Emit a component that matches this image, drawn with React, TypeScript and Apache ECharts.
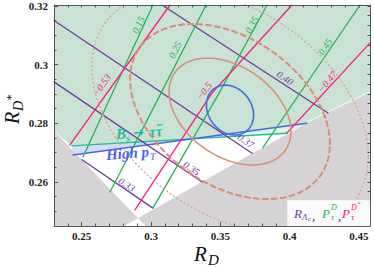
import React, { useEffect, useRef } from 'react';
import * as echarts from 'echarts';

// ---------- axes ----------
const xMin = 0.23;
const xMax = 0.458;
const yMin = 0.245;
const yMax = 0.3203;
const xLabelValues = [0.25, 0.3, 0.35, 0.4, 0.45];
const yLabelValues = [0.26, 0.28, 0.3, 0.32];
const xMinorValues = [0.23, 0.24, 0.26, 0.27, 0.28, 0.29, 0.31, 0.32, 0.33, 0.34, 0.36, 0.37, 0.38, 0.39, 0.41, 0.42, 0.43, 0.44];
const yMinorValues = [0.25, 0.255, 0.265, 0.27, 0.275, 0.285, 0.29, 0.295, 0.305, 0.31, 0.315];
const yRightTicks = [0.2467, 0.25, 0.2533, 0.2567, 0.26, 0.2633, 0.2667, 0.27, 0.2733, 0.2767, 0.28, 0.2833, 0.2867, 0.29, 0.2933, 0.2967, 0.3, 0.3033, 0.3067, 0.31, 0.3133, 0.3167, 0.32];

// ---------- regions (R_D, R_D*) ----------
const leftBoundary = [[0.23, 0.2774], [0.2906, 0.2476]];
const rightBoundary = [[0.2906, 0.2476], [0.3729, 0.2697], [0.4125, 0.28], [0.4291, 0.2839], [0.458, 0.2905]];
const leftGrayTail = [[0.2805, 0.245], [0.23, 0.245]];
const rightGrayTail = [[0.2962, 0.245], [0.458, 0.245]];
const bsTauTauLine = [[0.243, 0.2723], [0.3979, 0.2766]];
const highPtLine = [[0.2437, 0.2692], [0.4125, 0.28]];

// ---------- R_Lambda_c contours ----------
const rLcLevels = ['0.40', '0.37', '0.35', '0.33'];
const rLcLines = [
  [[0.3079, 0.3203], [0.4277, 0.2835]],
  [[0.23, 0.315], [0.3729, 0.2698]],
  [[0.23, 0.2941], [0.3368, 0.26]],
  [[0.2502, 0.2676], [0.3014, 0.2511]],
];

// ---------- P_tau^D contours ----------
const pDLevels = ['0.15', '0.25', '0.35', '0.45'];
const pDLines = [
  [[0.3014, 0.3203], [0.2509, 0.2685]],
  [[0.3397, 0.3203], [0.3065, 0.2896], [0.2704, 0.2566]],
  [[0.3837, 0.3203], [0.3483, 0.2896], [0.3014, 0.2511]],
  [[0.4508, 0.3203], [0.3808, 0.2718]],
];

// ---------- P_tau^D* contours ----------
const pDsLevels = ['\u22120.53', '\u22120.5', '\u22120.47'];
const pDsLines = [
  [[0.3137, 0.3203], [0.2415, 0.2726]],
  [[0.4017, 0.3203], [0.344, 0.2903], [0.2884, 0.2505]],
  [[0.458, 0.3074], [0.3979, 0.2766]],
];

// ---------- measurement ellipses ----------
const worldAvgCenter = [0.357, 0.284];
const worldAvgSigma = [0.029, 0.012];
const worldAvgRho = -0.37;
const worldAvgChi2 = [2.3, 6.18, 11.83];
const projCenter = [0.357, 0.2845];
const projSigma = [0.017, 0.0085];
const projRho = -0.2;

// ---------- label placement (layout) ----------
const rLcLabelAt = [[0.3967, 0.2954], [0.3685, 0.274], [0.3293, 0.2647], [0.2825, 0.2591]];
const rLcLabelRot = [-34, -34, -34, -34];
const pDLabelAt = [[0.2908, 0.3135], [0.3173, 0.305], [0.3726, 0.3135], [0.4255, 0.3061]];
const pDLabelRot = [64, 63, 61, 56];
const pDsLabelAt = [[0.2644, 0.293], [0.3382, 0.291], [0.4272, 0.2942]];
const pDsLabelRot = [55, 52, 50];

const PURPLE = '#6c3aa6';
const GREEN = '#26b457';
const PINK = '#f7207e';
const TEAL = '#1fbf9e';
const BLUE = '#4d62f2';
const SALMON = '#dc8c76';
const SERIF = '"Liberation Serif", "DejaVu Serif", serif';

function ellipse(c: number[], s: number[], rho: number, chi2: number) {
  const k = Math.sqrt(chi2);
  const pts: number[][] = [];
  const n = 180;
  for (let i = 0; i <= n; i++) {
    const t = (2 * Math.PI * i) / n;
    pts.push([
      c[0] + k * s[0] * Math.cos(t),
      c[1] + k * s[1] * (rho * Math.cos(t) + Math.sqrt(1 - rho * rho) * Math.sin(t)),
    ]);
  }
  return pts;
}

function intersect(a: number[][], b: number[][]) {
  const [p1, p2] = a;
  const [p3, p4] = b;
  const d = (p1[0] - p2[0]) * (p3[1] - p4[1]) - (p1[1] - p2[1]) * (p3[0] - p4[0]);
  const t = ((p1[0] - p3[0]) * (p3[1] - p4[1]) - (p1[1] - p3[1]) * (p3[0] - p4[0])) / d;
  return [p1[0] + t * (p2[0] - p1[0]), p1[1] + t * (p2[1] - p1[1])];
}

function polygon(points: number[][], fill: string, z: number) {
  return {
    type: 'custom',
    silent: true,
    z,
    data: [points[0]],
    renderItem: (_p: any, api: any) => ({
      type: 'polygon',
      shape: { points: points.map((p) => api.coord(p)) },
      style: { fill },
    }),
  };
}

function line(points: number[][], color: string, width: number, z: number, type: any = 'solid') {
  return {
    type: 'line',
    data: points,
    symbol: 'none',
    silent: true,
    z,
    lineStyle: { color, width, type, cap: 'round' },
  };
}

function labels(texts: string[], at: number[][], rot: number[], color: string) {
  return {
    type: 'custom',
    silent: true,
    z: 8,
    data: at,
    renderItem: (params: any, api: any) => {
      const i = params.dataIndex;
      const p = api.coord(at[i]);
      return {
        type: 'text',
        x: p[0],
        y: p[1],
        rotation: (rot[i] * Math.PI) / 180,
        style: {
          text: texts[i],
          fill: color,
          font: `italic 10px ${SERIF}`,
          align: 'center',
          verticalAlign: 'middle',
        },
      };
    },
  };
}

const fmt = (v: number) => String(parseFloat(Number(v).toFixed(3)));

function buildOption() {
  const cross = intersect(bsTauTauLine, highPtLine);
  const series: any[] = [];
  // regions
  series.push(
    polygon(
      [[xMin, yMax], [xMax, yMax], ...rightBoundary.slice(1).reverse().slice(0, 3), cross, bsTauTauLine[0], leftBoundary[0]],
      '#c9e2d3',
      1
    )
  );
  series.push(polygon([bsTauTauLine[0], cross, highPtLine[0]], '#d4dcf6', 1));
  series.push(polygon([cross, highPtLine[1], bsTauTauLine[1]], '#e3f3e3', 1));
  series.push(line(rightBoundary.slice(2), '#e6f4e6', 3, 1.5));
  series.push(polygon([...leftBoundary, ...leftGrayTail], '#d5d3d5', 2));
  series.push(polygon([rightBoundary[0], ...rightGrayTail, ...rightBoundary.slice(1).reverse()], '#d5d3d5', 2));
  // constraint lines
  series.push(line(bsTauTauLine, TEAL, 1.4, 3));
  series.push(line(highPtLine, BLUE, 1.4, 3));
  // contour lines
  rLcLines.forEach((l) => series.push(line(l, PURPLE, 1.3, 4)));
  pDLines.forEach((l) => series.push(line(l, GREEN, 1.3, 4)));
  pDsLines.forEach((l) => series.push(line(l, PINK, 1.3, 4)));
  // ellipses
  series.push(line(ellipse(worldAvgCenter, worldAvgSigma, worldAvgRho, worldAvgChi2[0]), SALMON, 1.5, 5));
  series.push(line(ellipse(worldAvgCenter, worldAvgSigma, worldAvgRho, worldAvgChi2[1]), SALMON, 2, 5, [5, 4]));
  series.push(line(ellipse(worldAvgCenter, worldAvgSigma, worldAvgRho, worldAvgChi2[2]), '#e0a090', 1.3, 5, [1, 3.2]));
  series.push(line(ellipse(projCenter, projSigma, projRho, 1), '#3f6fe2', 1.6, 6));
  // labels
  series.push(labels(rLcLevels, rLcLabelAt, rLcLabelRot, PURPLE));
  series.push(labels(pDLevels, pDLabelAt, pDLabelRot, GREEN));
  series.push(labels(pDsLevels, pDsLabelAt, pDsLabelRot, PINK));

  const axisCommon = {
    type: 'value',
    z: 20,
    splitLine: { show: false },
    axisLine: { show: true, onZero: false, lineStyle: { color: '#555', width: 1 } },
  };
  const labelStyle = { fontFamily: SERIF, fontWeight: 'bold', fontSize: 11, color: '#222', formatter: fmt };

  const xAxis = [
    {
      ...axisCommon, min: xMin, max: xMax, position: 'bottom',
      axisTick: { show: true, inside: true, length: 4, customValues: xLabelValues, lineStyle: { color: '#555' } },
      axisLabel: { ...labelStyle, customValues: xLabelValues, margin: 4 },
    },
    {
      ...axisCommon, min: xMin, max: xMax, position: 'bottom',
      axisLine: { show: false },
      axisTick: { show: true, inside: true, length: 2.5, customValues: xMinorValues, lineStyle: { color: '#555' } },
      axisLabel: { show: false },
    },
    {
      ...axisCommon, min: xMin, max: xMax, position: 'top',
      axisTick: { show: true, inside: true, length: 2.5, customValues: [...xLabelValues, ...xMinorValues], lineStyle: { color: '#555' } },
      axisLabel: { show: false },
    },
  ];
  const yAxis = [
    {
      ...axisCommon, min: yMin, max: yMax, position: 'left',
      axisTick: { show: true, inside: true, length: 4, customValues: yLabelValues, lineStyle: { color: '#555' } },
      axisLabel: { ...labelStyle, customValues: yLabelValues, margin: 6 },
    },
    {
      ...axisCommon, min: yMin, max: yMax, position: 'left',
      axisLine: { show: false },
      axisTick: { show: true, inside: true, length: 2.5, customValues: yMinorValues, lineStyle: { color: '#555' } },
      axisLabel: { show: false },
    },
    {
      ...axisCommon, min: yMin, max: yMax, position: 'right',
      axisTick: { show: true, inside: true, length: 2.5, customValues: yRightTicks, lineStyle: { color: '#555' } },
      axisLabel: { show: false },
    },
  ];

  const it = (size: number, bold = false) => `italic ${bold ? 'bold ' : ''}${size}px ${SERIF}`;
  const graphic: any[] = [
    // x title
    { type: 'text', x: 194, y: 254, z: 50, style: { text: 'R', font: it(21), fill: '#111', verticalAlign: 'middle' } },
    { type: 'text', x: 208, y: 260, z: 50, style: { text: 'D', font: it(15), fill: '#111', verticalAlign: 'middle' } },
    // y title
    {
      type: 'group', x: 12, y: 124, rotation: Math.PI / 2, z: 50,
      children: [
        { type: 'text', x: 0, y: 0, style: { text: 'R', font: it(20), fill: '#111', verticalAlign: 'middle' } },
        { type: 'text', x: 13, y: 6, style: { text: 'D', font: it(14), fill: '#111', verticalAlign: 'middle' } },
        { type: 'text', x: 23, y: -1, style: { text: '*', font: it(12), fill: '#111', verticalAlign: 'middle' } },
      ],
    },
    // Bs -> tau tau
    { type: 'text', x: 116, y: 134, z: 50, rotation: 0.06, style: { text: 'B', font: it(15, true), fill: TEAL, verticalAlign: 'middle' } },
    { type: 'text', x: 126, y: 138, z: 50, rotation: 0.06, style: { text: 's', font: it(10, true), fill: TEAL, verticalAlign: 'middle' } },
    { type: 'text', x: 133, y: 132.5, z: 50, rotation: 0.06, style: { text: '\u2192', font: 'bold 13px "DejaVu Sans", sans-serif', fill: TEAL, verticalAlign: 'middle' } },
    { type: 'text', x: 149, y: 132, z: 50, rotation: 0.06, style: { text: '\u03c4\u03c4', font: it(15, true), fill: TEAL, verticalAlign: 'middle' } },
    { type: 'rect', x: 157, y: 124.5, z: 50, rotation: 0.06, shape: { width: 6, height: 1.2 }, style: { fill: TEAL } },
    // High pT
    { type: 'text', x: 106, y: 155, z: 50, rotation: 0.08, style: { text: 'High p', font: it(15, true), fill: BLUE, verticalAlign: 'middle' } },
    { type: 'text', x: 150, y: 156.5, z: 50, rotation: 0.08, style: { text: 'T', font: it(10), fill: BLUE, verticalAlign: 'middle' } },
    // legend box
    { type: 'rect', x: 287, y: 200, z: 40, shape: { width: 83, height: 26 }, style: { fill: 'rgba(255,255,255,0.88)', stroke: 'rgba(200,200,200,0.6)', lineWidth: 0.5 } },
    { type: 'text', x: 294, y: 213, z: 50, style: { text: 'R', font: it(13), fill: PURPLE, verticalAlign: 'middle' } },
    { type: 'text', x: 302, y: 217, z: 50, style: { text: '\u039b', font: it(9), fill: PURPLE, verticalAlign: 'middle' } },
    { type: 'text', x: 308, y: 219, z: 50, style: { text: 'c', font: it(7), fill: PURPLE, verticalAlign: 'middle' } },
    { type: 'text', x: 312, y: 215, z: 50, style: { text: ',', font: it(13), fill: '#333', verticalAlign: 'middle' } },
    { type: 'text', x: 322, y: 213, z: 50, style: { text: 'P', font: it(13), fill: GREEN, verticalAlign: 'middle' } },
    { type: 'text', x: 331, y: 207, z: 50, style: { text: 'D', font: it(8), fill: GREEN, verticalAlign: 'middle' } },
    { type: 'text', x: 331, y: 217, z: 50, style: { text: '\u03c4', font: it(9), fill: GREEN, verticalAlign: 'middle' } },
    { type: 'text', x: 338, y: 215, z: 50, style: { text: ',', font: it(13), fill: '#333', verticalAlign: 'middle' } },
    { type: 'text', x: 342, y: 213, z: 50, style: { text: 'P', font: it(13), fill: PINK, verticalAlign: 'middle' } },
    { type: 'text', x: 351, y: 207, z: 50, style: { text: 'D', font: it(8), fill: PINK, verticalAlign: 'middle' } },
    { type: 'text', x: 357, y: 204, z: 50, style: { text: '*', font: it(7), fill: PINK, verticalAlign: 'middle' } },
    { type: 'text', x: 351, y: 217, z: 50, style: { text: '\u03c4', font: it(9), fill: PINK, verticalAlign: 'middle' } },
  ];

  return {
    animation: false,
    backgroundColor: '#ffffff',
    grid: { left: 54, right: 4, top: 5, bottom: 41, containLabel: false },
    xAxis,
    yAxis,
    series,
    graphic,
  };
}

export default function App() {
  const ref = useRef<HTMLDivElement>(null);
  useEffect(() => {
    if (!ref.current) return;
    const chart = echarts.init(ref.current, undefined, { renderer: 'svg' });
    chart.setOption(buildOption() as any);
    return () => chart.dispose();
  }, []);
  return <div ref={ref} style={{ position: 'fixed', left: 0, top: 0, width: 374, height: 267 }} />;
}
